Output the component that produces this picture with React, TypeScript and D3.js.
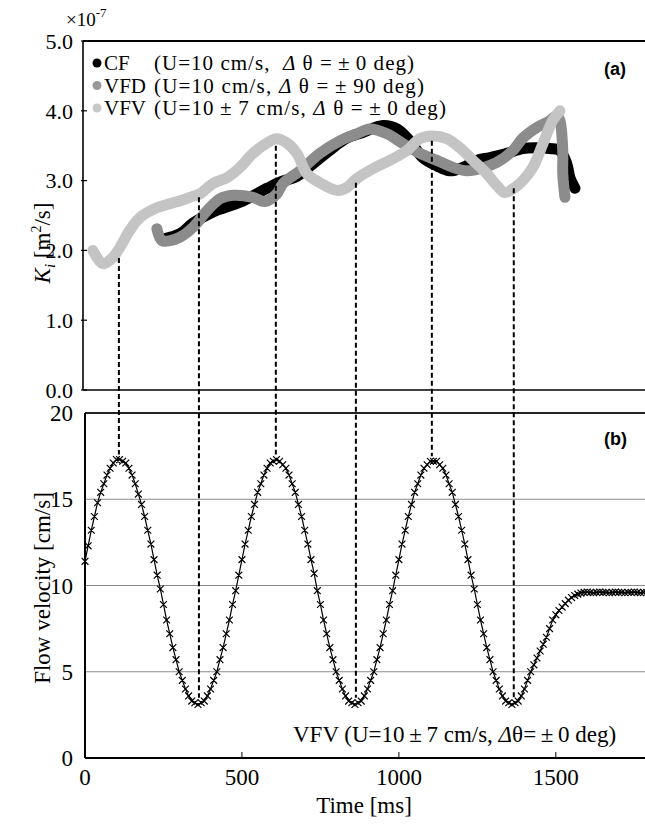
import React from 'react';
import * as d3 from 'd3';

// ---------- data ----------
const timeTicks = [0, 500, 1000, 1500];
const kTicks = [0, 1, 2, 3, 4, 5];
const kTickLabels = ['0.0', '1.0', '2.0', '3.0', '4.0', '5.0'];
const vTicks = [0, 5, 10, 15, 20];
const vGrid = [5, 10, 15];

// (a) diffusion coefficient K_i [x1e-7 m2/s]
const cfTime = [255, 303, 344, 408, 494, 580, 621, 675, 726, 790, 834, 885, 949, 994, 1035, 1076, 1121, 1162, 1204, 1248, 1290, 1344, 1395, 1439, 1481, 1513, 1535, 1545, 1561];
const cfK = [2.17, 2.24, 2.39, 2.55, 2.69, 2.89, 2.98, 3.06, 3.24, 3.47, 3.61, 3.69, 3.79, 3.74, 3.57, 3.33, 3.21, 3.14, 3.19, 3.29, 3.33, 3.39, 3.46, 3.47, 3.46, 3.43, 3.24, 3.04, 2.89];

const vfdTime = [229, 245, 271, 303, 344, 389, 430, 471, 535, 573, 611, 631, 685, 748, 812, 866, 908, 962, 1013, 1067, 1121, 1172, 1217, 1258, 1312, 1363, 1395, 1439, 1481, 1503, 1513, 1522, 1522, 1529];
const vfdK = [2.31, 2.14, 2.14, 2.19, 2.33, 2.57, 2.74, 2.79, 2.76, 2.70, 2.81, 2.96, 3.14, 3.39, 3.57, 3.67, 3.74, 3.67, 3.53, 3.39, 3.29, 3.19, 3.14, 3.17, 3.26, 3.43, 3.61, 3.76, 3.86, 3.93, 3.86, 3.43, 3.10, 2.76];

const vfvTime = [25, 57, 89, 111, 143, 175, 229, 303, 334, 366, 408, 452, 494, 535, 580, 611, 643, 675, 707, 748, 803, 834, 866, 917, 971, 1025, 1067, 1105, 1153, 1194, 1236, 1280, 1312, 1338, 1369, 1395, 1427, 1459, 1490, 1513];
const vfvK = [2.00, 1.81, 1.90, 2.04, 2.29, 2.47, 2.61, 2.71, 2.76, 2.81, 2.96, 3.04, 3.19, 3.39, 3.54, 3.60, 3.54, 3.39, 3.10, 2.97, 2.86, 2.90, 3.03, 3.17, 3.29, 3.43, 3.60, 3.64, 3.60, 3.47, 3.29, 3.10, 2.93, 2.83, 2.90, 3.00, 3.19, 3.53, 3.86, 4.00];

// (b) flow velocity [cm/s], sampled every 10 ms from 0 ms
const flowStepMs = 10;
const flowVelocity = [
  11.4, 12.3, 13.2, 14.0, 14.8, 15.4, 15.9, 16.4, 16.8, 17.1, 17.3,
  17.3,
  17.2, 17.1, 16.8, 16.4, 15.9, 15.3, 14.7, 14.0, 13.2, 12.4, 11.5, 10.6, 9.8, 8.9, 8.0, 7.2, 6.4, 5.7, 5.0, 4.5, 4.0, 3.6, 3.3, 3.2,
  3.1,
  3.2, 3.3, 3.6, 4.0, 4.5, 5.0, 5.7, 6.4, 7.2, 8.0, 8.9, 9.7, 10.6, 11.5, 12.4, 13.2, 14.0, 14.7, 15.4, 15.9, 16.4, 16.8, 17.1, 17.2,
  17.3,
  17.2, 17.0, 16.8, 16.4, 15.9, 15.4, 14.7, 14.0, 13.2, 12.4, 11.5, 10.7, 9.7, 8.9, 8.0, 7.2, 6.4, 5.7, 5.0, 4.5, 4.0, 3.6, 3.3, 3.2,
  3.1,
  3.2, 3.3, 3.6, 4.0, 4.5, 5.0, 5.7, 6.4, 7.2, 8.0, 8.9, 9.7, 10.6, 11.5, 12.4, 13.2, 14.0, 14.7, 15.4, 15.9, 16.4, 16.8, 17.0, 17.2,
  17.2,
  17.2, 17.0, 16.8, 16.4, 15.9, 15.4, 14.7, 14.0, 13.2, 12.4, 11.5, 10.6, 9.8, 8.9, 8.0, 7.2, 6.4, 5.7, 5.0, 4.5, 4.0, 3.6, 3.3, 3.2,
  3.1,
  3.2, 3.3, 3.6, 4.0, 4.5, 5.0, 5.4, 5.8, 6.2, 6.6, 7.0, 7.5, 8.0, 8.3, 8.55, 8.75, 8.95, 9.15, 9.3, 9.42, 9.5, 9.56, 9.6,
  9.62, 9.6, 9.58, 9.6, 9.62, 9.6, 9.6, 9.58, 9.6, 9.62, 9.6, 9.6, 9.58, 9.6, 9.6, 9.62, 9.6, 9.58, 9.6, 9.6, 9.6,
];

// dashed connector lines: event times, where they meet curve (a) and curve (b)
const eventTime = [108, 363, 608, 863, 1105, 1366];
const eventK = [1.89, 2.76, 3.50, 2.97, 3.57, 2.89];
const eventV = [17.6, 3.5, 17.6, 3.5, 17.5, 3.5];

const seriesNames = ['CF', 'VFD', 'VFV'];
const seriesColors = ['#000000', '#8c8c8c', '#c4c4c4'];
const legendColors = ['#000000', '#999999', '#c8c8c8'];

const SERIF = '"Liberation Serif", "Times New Roman", serif';
const SANS = '"Liberation Sans", Arial, sans-serif';

export default function App() {
  const W = 645, H = 824;
  const x = d3.scaleLinear().domain([0, 1800]).range([85, 650]);
  const yK = d3.scaleLinear().domain([0, 5]).range([390, 41]);
  const yV = d3.scaleLinear().domain([0, 20]).range([758, 413]);

  const topLeft = 83;
  const botLeft = x(0);

  const kLine = d3.line<[number, number]>()
    .x(d => x(d[0])).y(d => yK(d[1]))
    .curve(d3.curveCatmullRom.alpha(0.5));
  const series = [
    cfTime.map((t, i) => [t, cfK[i]] as [number, number]),
    vfdTime.map((t, i) => [t, vfdK[i]] as [number, number]),
    vfvTime.map((t, i) => [t, vfvK[i]] as [number, number]),
  ];

  const flowPts = flowVelocity.map((v, i) => [i * flowStepMs, v] as [number, number]);
  const vLine = d3.line<[number, number]>().x(d => x(d[0])).y(d => yV(d[1]));
  const ms = 3.4;
  const markerPath = flowPts.map(([t, v]) => {
    const cx = x(t), cy = yV(v);
    return `M${cx - ms},${cy - ms}L${cx + ms},${cy + ms}M${cx - ms},${cy + ms}L${cx + ms},${cy - ms}`;
  }).join('');

  const fs = 23;
  const lfs = 21;
  const pm = '\u2009±\u2009';
  const legendEnds = [414, 424, 446];

  return (
    <svg width={W} height={H} style={{ position: 'absolute', left: 0, top: 0, background: '#fff' }} fontFamily={SERIF}>
      <rect x={0} y={0} width={W} height={H} fill="#fff" />

      {/* ---------- panel (a) ---------- */}
      {series.map((s, i) => (
        <path key={i} d={kLine(s) || ''} fill="none" stroke={seriesColors[i]} strokeWidth={11}
          strokeLinecap="round" strokeLinejoin="round" />
      ))}
      <line x1={topLeft} x2={W} y1={yK(5)} y2={yK(5)} stroke="#000" strokeWidth={2} />
      <line x1={topLeft} x2={W} y1={yK(0)} y2={yK(0)} stroke="#000" strokeWidth={1.6} />
      <line x1={topLeft} x2={topLeft} y1={yK(5)} y2={yK(0)} stroke="#000" strokeWidth={1.6} />
      {kTicks.map((k, i) => (
        <g key={k}>
          <line x1={topLeft - 2} x2={topLeft + 4} y1={yK(k)} y2={yK(k)} stroke="#000" strokeWidth={1.2} />
          <text x={73} y={yK(k)} dy="0.35em" textAnchor="end" fontSize={22}>{kTickLabels[i]}</text>
        </g>
      ))}
      <text x={66} y={26} fontSize={19}>×10<tspan fontSize={13} dy={-9}>-7</tspan></text>
      <text transform={`translate(50,${243}) rotate(-90)`} textAnchor="middle" fontSize={fs}>
        <tspan fontStyle="italic">K</tspan><tspan fontStyle="italic" fontSize={15} dy={5}>i</tspan>
        <tspan dy={-5}> [m</tspan><tspan fontSize={14} dy={-9}>2</tspan><tspan dy={9}>/s]</tspan>
      </text>
      <text x={604} y={75} fontFamily={SANS} fontWeight="bold" fontSize={18}>(a)</text>

      {/* legend */}
      {seriesNames.map((n, i) => {
        const cy = 63 + i * 22.5;
        const rest = i === 0
          ? ['(U=10 cm/s,  ', ' θ =', '0 deg)']
          : i === 1
            ? ['(U=10 cm/s, ', ' θ =', '90 deg)']
            : [`(U=10${pm}7 cm/s, `, ' θ =', '0 deg)'];
        return (
          <g key={n}>
            <circle cx={97} cy={cy} r={4.5} fill={legendColors[i]} />
            <text x={104} y={cy + 7} fontSize={lfs} style={{ whiteSpace: 'pre' }}>{n}</text>
            <text x={154} y={cy + 7} fontSize={lfs} style={{ whiteSpace: 'pre' }}
              textLength={legendEnds[i] - 154} lengthAdjust="spacing">
              {rest[0]}<tspan fontStyle="italic">Δ</tspan>{rest[1]}{pm}{rest[2]}
            </text>
          </g>
        );
      })}

      {/* ---------- panel (b) ---------- */}
      {vGrid.map(v => (
        <line key={v} x1={botLeft} x2={W} y1={yV(v)} y2={yV(v)} stroke="#8a8a8a" strokeWidth={1} />
      ))}
      <line x1={botLeft} x2={W} y1={yV(20)} y2={yV(20)} stroke="#222" strokeWidth={2} />
      <line x1={botLeft} x2={W} y1={yV(0)} y2={yV(0)} stroke="#000" strokeWidth={2} />
      <line x1={botLeft} x2={botLeft} y1={yV(20)} y2={yV(0)} stroke="#000" strokeWidth={2} />
      {vTicks.map(v => (
        <text key={v} x={73} y={yV(v)} dy="0.35em" textAnchor="end" fontSize={fs}>{v}</text>
      ))}
      {timeTicks.map(t => (
        <g key={t}>
          {t > 0 && <line x1={x(t)} x2={x(t)} y1={yV(0)} y2={yV(0) - 6} stroke="#000" strokeWidth={1} />}
          <text x={x(t)} y={785} textAnchor="middle" fontSize={fs}>{t}</text>
        </g>
      ))}
      <text x={364} y={813} textAnchor="middle" fontSize={fs}>Time [ms]</text>
      <text transform={`translate(50,${588}) rotate(-90)`} textAnchor="middle" fontSize={fs}>Flow velocity [cm/s]</text>
      <text x={604} y={445} fontFamily={SANS} fontWeight="bold" fontSize={18}>(b)</text>

      {/* dashed connectors */}
      {eventTime.map((t, i) => (
        <line key={t} x1={x(t)} x2={x(t)} y1={yK(eventK[i])} y2={yV(eventV[i])}
          stroke="#000" strokeWidth={2} strokeDasharray="5,3" />
      ))}

      {/* flow velocity curve */}
      <path d={vLine(flowPts) || ''} fill="none" stroke="#000" strokeWidth={1.2} />
      <path d={markerPath} fill="none" stroke="#000" strokeWidth={1.2} />

      <text x={293} y={742} fontSize={fs} style={{ whiteSpace: 'pre' }}>
        {`VFV (U=10${pm}7 cm/s, `}<tspan fontStyle="italic">Δ</tspan>{`θ=${pm}0 deg)`}
      </text>
    </svg>
  );
}
